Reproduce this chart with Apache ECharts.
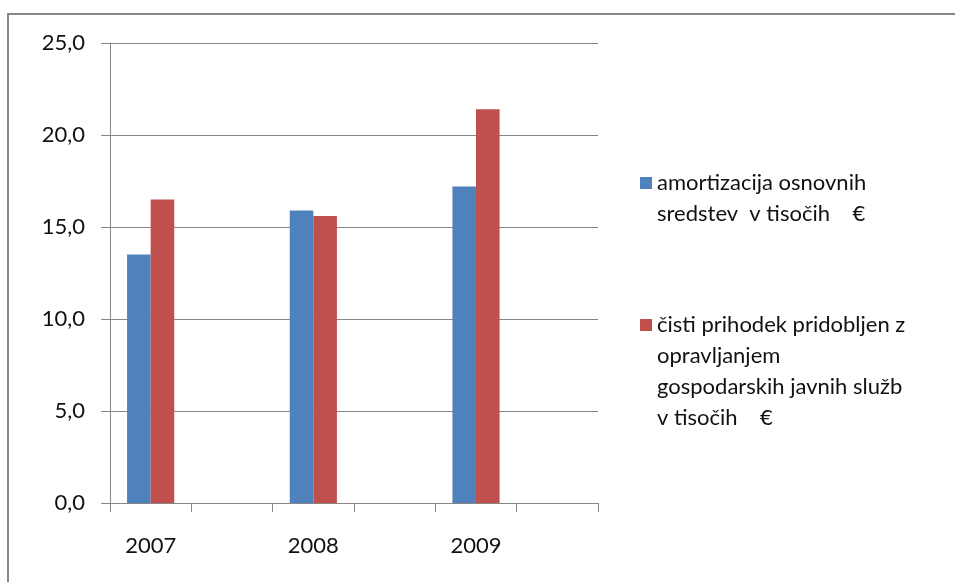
<!DOCTYPE html>
<html>
<head>
<meta charset="utf-8">
<script src="https://cdn.jsdelivr.net/npm/echarts@6/dist/echarts.min.js"></script>
<style>
  html, body { margin: 0; padding: 0; background: #fff; }
  #chart { width: 955px; height: 582px; }
</style>
</head>
<body>
<div id="chart"></div>
<script>
// categories (empty slots keep the spacing of the original sheet)
const categories = ['2007', '', '2008', '', '2009', '']
const amortizacija = [13.5, null, 15.9, null, 17.2, null]
const prihodek = [16.5, null, 15.6, null, 21.4, null]
const seriesNames = [
  'amortizacija osnovnih\nsredstev  v tisočih    €',
  'čisti prihodek pridobljen z\nopravljanjem\ngospodarskih javnih služb\nv tisočih    €'
]

const FONT = 'Lato'
const FS = 22
const LH = 31
const gridColor = '#868686'

// legend text is centred on the icon; put blank lines above so the
// first real line sits next to the icon, like in the sheet
function topAligned(name) {
  const n = name.split('\n').length
  return '\n'.repeat(n - 1) + name
}

const chart = echarts.init(document.getElementById('chart'))

chart.setOption({
  backgroundColor: '#fff',
  animation: false,
  textStyle: { fontFamily: FONT },
  graphic: [{
    type: 'rect', silent: true,
    shape: { x: 8, y: 14, width: 1200, height: 1200 },
    style: { fill: 'none', stroke: gridColor, lineWidth: 2 }
  }],
  legend: [{
    left: 640, top: 183 - LH * 1.5, padding: 0,
    icon: 'rect', itemWidth: 12, itemHeight: 12,
    selectedMode: false,
    data: [seriesNames[0]],
    formatter: topAligned,
    textStyle: { fontFamily: FONT, fontSize: FS, color: '#111', lineHeight: LH }
  }, {
    left: 640, top: 325 - LH * 3.5, padding: 0,
    icon: 'rect', itemWidth: 12, itemHeight: 12,
    selectedMode: false,
    data: [seriesNames[1]],
    formatter: topAligned,
    textStyle: { fontFamily: FONT, fontSize: FS, color: '#111', lineHeight: LH }
  }],
  grid: { left: 110, right: 357, top: 43, bottom: 79, containLabel: false },
  xAxis: {
    type: 'category',
    data: categories,
    axisLine: { show: true, lineStyle: { color: gridColor, width: 1 } },
    axisTick: { show: true, interval: 0, length: 9, lineStyle: { color: gridColor } },
    axisLabel: { interval: 0, margin: 32, color: '#111', fontFamily: FONT, fontSize: FS },
    splitLine: { show: false }
  },
  yAxis: {
    type: 'value',
    min: 0, max: 25, interval: 5,
    axisLine: { show: true, lineStyle: { color: gridColor, width: 1 } },
    axisTick: { show: true, length: 9, lineStyle: { color: gridColor } },
    axisLabel: {
      margin: 25, color: '#111', fontFamily: FONT, fontSize: FS,
      formatter: v => v.toFixed(1).replace('.', ',')
    },
    splitLine: { show: true, lineStyle: { color: gridColor, width: 1 } }
  },
  series: [{
    name: seriesNames[0], type: 'bar',
    data: amortizacija,
    itemStyle: { color: '#4F81BD' },
    barGap: '0%', barCategoryGap: '42%'
  }, {
    name: seriesNames[1], type: 'bar',
    data: prihodek,
    itemStyle: { color: '#C0504D' },
    barGap: '0%', barCategoryGap: '42%'
  }]
})
</script>
</body>
</html>
